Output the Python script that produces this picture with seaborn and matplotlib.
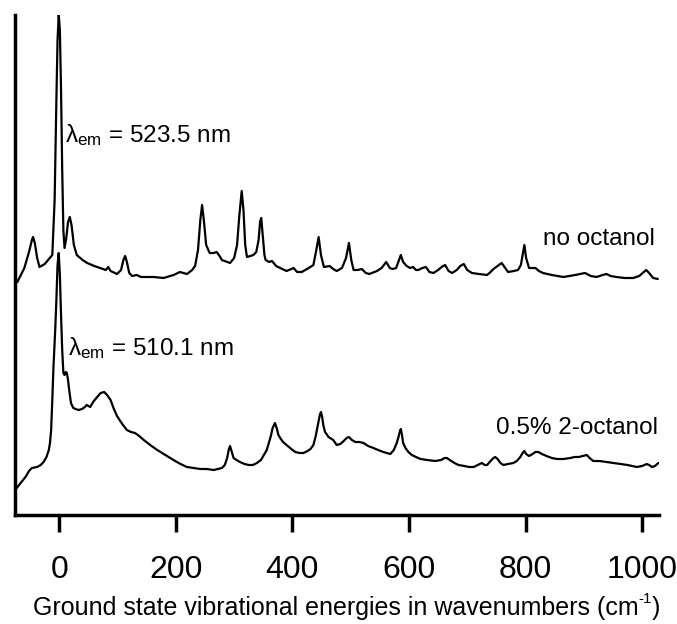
import matplotlib
matplotlib.use("Agg")
import matplotlib.pyplot as plt
import seaborn as sns
import pandas as pd

# Resonance Raman spectra (offset for display), wavenumber in cm^-1
wn_no_octanol = [-72, -60, -52, -47, -45, -42, -38, -34, -25, -15, -12, -8, -5, -3, -1, 1, 3, 5, 7, 9,
                 12, 15, 18, 21, 25, 30, 40, 48, 60, 70, 80, 84, 88, 99, 106, 110, 113, 116, 120, 125,
                 133, 140, 162, 179, 196, 207, 219, 228, 233, 238, 242, 245, 248, 252, 258, 265, 270, 275, 279, 293,
                 300, 305, 309, 313, 316, 319, 322, 328, 333, 338, 342, 344.5, 346.5, 349, 352, 354, 360, 365, 372, 379,
                 390, 402, 408, 416, 428, 436, 441, 445, 449, 454, 464, 470, 476, 485, 492, 497, 501, 505, 512, 519,
                 526, 532, 545, 553, 561, 567, 572, 578, 583, 586, 590, 596, 602, 607, 612, 616, 623, 629, 635, 642,
                 650, 656, 662, 668, 674, 682, 688, 694, 700, 708, 720, 734, 740, 745, 752, 759, 765, 770, 780, 787,
                 792, 795, 798, 801, 806, 812, 817, 823, 830, 845, 865, 885, 902, 912, 922, 932, 939, 946, 956, 970,
                 985, 995, 1001, 1007, 1012, 1019, 1027]
int_no_octanol = [233, 247, 263, 275, 278, 272, 257, 248, 251, 258, 260, 315, 415, 475, 500, 485, 425, 345, 285, 267,
                  277, 293, 298, 290, 270, 260, 255, 252, 249, 247, 245, 248, 244, 241, 245, 255, 259, 253, 242, 239,
                  240, 238, 238, 237, 240, 243, 241, 245, 249, 265, 295, 310, 295, 270, 262, 262, 263, 259, 255, 252,
                  257, 270, 300, 324, 305, 270, 258, 259, 260, 263, 275, 293, 297, 280, 260, 255, 253, 254, 249, 247,
                  244, 247, 243, 243, 247, 250, 265, 278, 260, 248, 249, 246, 244, 247, 257, 272, 255, 245, 245, 246,
                  242, 241, 244, 247, 253, 247, 246, 247, 255, 260, 253, 249, 247, 248, 245, 245, 247, 248, 243, 242,
                  245, 248, 250, 244, 242, 245, 249, 251, 245, 242, 241, 240, 243, 246, 249, 252, 247, 243, 244, 245,
                  250, 260, 270, 257, 247, 247, 247, 244, 242, 240, 238, 240, 242, 239, 238, 240, 241, 239, 238, 237,
                  237, 239, 242, 245, 242, 237, 236]

wn_octanol = [-73, -65, -58, -52, -47, -38, -32, -27, -22, -18, -16, -14, -12, -10, -7, -5, -3, -1, 1, 3,
              5, 7, 9, 11, 13, 15, 17, 20, 24, 28, 33, 39, 44, 47, 50, 53, 58, 65, 71, 77,
              82, 88, 93, 99, 108, 116, 123, 130, 137, 145, 156, 168, 182, 196, 208, 219, 230, 242, 253, 265,
              272, 279, 284, 288, 291, 293, 295, 299, 304, 310, 318, 325, 332, 339, 346, 351, 356, 360, 363, 366,
              370, 373, 376, 379, 384, 390, 398, 405, 412, 419, 426, 431, 436, 440, 444, 447, 449, 451, 453, 456,
              462, 470, 476, 482, 488, 493, 497, 502, 508, 515, 522, 530, 539, 547, 556, 562, 568, 574, 579, 582,
              584, 586, 588, 590, 594, 599, 605, 612, 620, 631, 645, 655, 661, 665, 670, 678, 685, 695, 703, 711,
              718, 725, 730, 734, 740, 745, 748, 752, 757, 762, 770, 779, 785, 791, 795, 798, 801, 806, 812, 817,
              822, 828, 836, 845, 854, 865, 877, 884, 891, 898, 905, 910, 916, 927, 939, 950, 962, 975, 991, 1000,
              1008, 1012, 1017, 1022, 1028]
int_octanol = [27, 33, 38, 44, 47, 48, 50, 53, 58, 65, 72, 85, 115, 148, 185, 215, 250, 262, 240, 200,
               165, 142, 140, 143, 142, 135, 125, 112, 107, 106, 105, 106, 108, 110, 109, 108, 113, 118, 122, 123,
               120, 115, 107, 99, 91, 85, 83, 82, 79, 75, 70, 65, 60, 55, 51, 48, 47, 46, 46, 45,
               46, 47, 50, 57, 66, 69, 65, 57, 55, 53, 51, 50, 50, 52, 55, 60, 65, 73, 79, 87,
               92, 87, 80, 77, 73, 70, 66, 63, 62, 62, 64, 66, 70, 79, 91, 100, 103, 98, 90, 83,
               78, 75, 70, 71, 74, 77, 78, 75, 73, 73, 72, 69, 67, 65, 63, 62, 61, 65, 72, 78,
               83, 86, 80, 72, 67, 63, 60, 58, 56, 55, 54, 55, 57, 57, 55, 52, 50, 49, 48, 48,
               50, 52, 50, 50, 54, 57, 58, 56, 52, 50, 51, 52, 54, 58, 62, 64, 61, 59, 61, 63,
               63, 61, 59, 57, 56, 56, 57, 58, 58, 59, 60, 57, 54, 54, 53, 52, 51, 50, 48, 49,
               51, 50, 48, 49, 52]

xticks = [0, 200, 400, 600, 800, 1000]
xlabel = "Ground state vibrational energies in wavenumbers (cm"

sns.set_style("white")
plt.rcParams["font.family"] = ["Liberation Sans", "DejaVu Sans"]
plt.rcParams["mathtext.fontset"] = "custom"
plt.rcParams["mathtext.rm"] = "Liberation Sans"
plt.rcParams["mathtext.it"] = "Liberation Sans"
plt.rcParams["mathtext.bf"] = "Liberation Sans:bold"
plt.rcParams["text.color"] = "black"
plt.rcParams["xtick.color"] = "black"

W, H = 677, 624
fig = plt.figure(figsize=(W / 100, H / 100), dpi=100)
ax = fig.add_axes([15 / W, (H - 515) / H, (659 - 15) / W, 500 / H])

df_a = pd.DataFrame({"wn": wn_no_octanol, "I": int_no_octanol})
df_b = pd.DataFrame({"wn": wn_octanol, "I": int_octanol})
sns.lineplot(data=df_a, x="wn", y="I", ax=ax, color="black", lw=1.6, sort=False, estimator=None)
sns.lineplot(data=df_b, x="wn", y="I", ax=ax, color="black", lw=1.6, sort=False, estimator=None)

ax.set_xlim(-76, 1029)
ax.set_ylim(0, 500)
ax.set_xticks(xticks)
ax.set_xticklabels([str(t) for t in xticks])
ax.set_yticks([])
ax.set_ylabel("")
ax.set_xlabel("")

for side in ("top", "right"):
    ax.spines[side].set_visible(False)
for side in ("left", "bottom"):
    ax.spines[side].set_linewidth(2.5)
    ax.spines[side].set_color("black")
    ax.spines[side].set_capstyle("projecting")
ax.tick_params(axis="x", direction="out", length=12, width=2.5, color="black",
               labelsize=23, labelcolor="black", pad=17, bottom=True)

# x-axis title with a raised "-1" exponent
lab_fs = 18
base_y = 1 - 615 / H
t = fig.text(33 / W, base_y, xlabel, fontsize=lab_fs, ha="left", va="baseline")
fig.canvas.draw()
bb = t.get_window_extent()
sup = fig.text(bb.x1 / W, base_y + 12 / H, "-1", fontsize=11, ha="left", va="baseline")
fig.canvas.draw()
bb2 = sup.get_window_extent()
fig.text(bb2.x1 / W, base_y, ")", fontsize=lab_fs, ha="left", va="baseline")

tfs = 17.5
ax.text(10, 373, r"$\mathregular{\lambda_{em}}$ = 523.5 nm", fontsize=tfs, ha="left", va="baseline")
ax.text(15, 160, r"$\mathregular{\lambda_{em}}$ = 510.1 nm", fontsize=tfs, ha="left", va="baseline")
ax.text(1022, 270, "no octanol", fontsize=tfs, ha="right", va="baseline")
ax.text(1027, 81, "0.5% 2-octanol", fontsize=tfs, ha="right", va="baseline")

fig.savefig("out.png", dpi=100)
